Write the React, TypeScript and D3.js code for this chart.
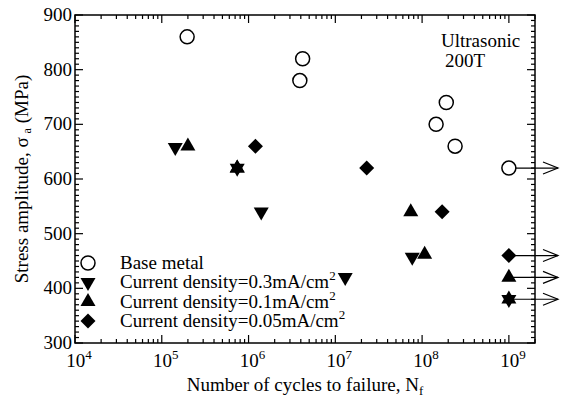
import React from "react";
import * as d3 from "d3";

const baseN = [1.96e5, 4.2e6, 3.9e6, 1.9e8, 1.45e8, 2.4e8, 1e9];
const baseS = [860, 820, 780, 740, 700, 660, 620];
const cd03N = [1.43e5, 7.4e5, 1.4e6, 1.3e7, 7.7e7, 1e9];
const cd03S = [658, 620, 540, 420, 457, 380];
const cd01N = [2.0e5, 7.4e5, 7.4e7, 1.07e8, 1e9];
const cd01S = [660, 620, 540, 462, 420];
const cd005N = [1.2e6, 2.3e7, 1.7e8, 1e9];
const cd005S = [660, 620, 540, 460];
const runoutN = [1e9, 1e9, 1e9, 1e9];
const runoutS = [620, 460, 420, 380];
const runoutOpen = [true, false, false, false];
const xTickExp = [4, 5, 6, 7, 8, 9];
const yTicks = [300, 400, 500, 600, 700, 800, 900];
const legendLabels = ["Base metal", "Current density=0.3mA/cm", "Current density=0.1mA/cm", "Current density=0.05mA/cm"];

const W = 568, H = 399;
const L = 75, R = 535, T = 15, B = 343;
const FONT = "Liberation Serif, Times New Roman, DejaVu Serif, serif";

const x = d3.scaleLog().domain([1e4, 2e9]).range([L, R]);
const y = d3.scaleLinear().domain([300, 900]).range([B, T]);

const tw = 7.5, th = 13;
const upPath = `M0,${-2 * th / 3}L${tw},${th / 3}L${-tw},${th / 3}Z`;
const downPath = `M0,${2 * th / 3}L${tw},${-th / 3}L${-tw},${-th / 3}Z`;
const diamondPath = "M0,-7.5L7.5,0L0,7.5L-7.5,0Z";

function Marker({ kind, cx, cy }: { kind: string; cx: number; cy: number }) {
  if (kind === "circle")
    return <circle cx={cx} cy={cy} r={7} fill="white" stroke="black" strokeWidth={1.5} />;
  const d = kind === "up" ? upPath : kind === "down" ? downPath : diamondPath;
  return <path d={d} transform={`translate(${cx},${cy})`} fill="black" />;
}

const ts = { fontFamily: FONT };

export default function App() {
  const minorX: number[] = [];
  for (let e = 4; e <= 9; e++) for (let m = 2; m <= 9; m++) {
    const v = m * Math.pow(10, e);
    if (v <= 2e9) minorX.push(v);
  }
  const minorY: number[] = [];
  for (let v = 300; v <= 900; v += 10) if (v % 100 !== 0) minorY.push(v);

  const majLen = 8, minLen = 4;
  return (
    <svg width={W} height={H} style={{ position: "absolute", left: 0, top: 0, background: "white", fontFamily: FONT }}>
      <rect x={0} y={0} width={W} height={H} fill="white" />
      <g stroke="black" strokeWidth={1.2}>
        {xTickExp.map((e) => {
          const px = x(Math.pow(10, e));
          return (
            <g key={"xm" + e}>
              <line x1={px} x2={px} y1={B} y2={B - majLen} />
              <line x1={px} x2={px} y1={T} y2={T + majLen} />
            </g>
          );
        })}
        {minorX.map((v, i) => {
          const px = x(v);
          return (
            <g key={"xn" + i}>
              <line x1={px} x2={px} y1={B} y2={B - minLen} />
              <line x1={px} x2={px} y1={T} y2={T + minLen} />
            </g>
          );
        })}
        {yTicks.map((v) => (
          <g key={"ym" + v}>
            <line x1={L} x2={L + majLen} y1={y(v)} y2={y(v)} />
            <line x1={R} x2={R - majLen} y1={y(v)} y2={y(v)} />
          </g>
        ))}
        {minorY.map((v) => (
          <g key={"yn" + v}>
            <line x1={L} x2={L + minLen} y1={y(v)} y2={y(v)} />
            <line x1={R} x2={R - minLen} y1={y(v)} y2={y(v)} />
          </g>
        ))}
      </g>
      <rect x={L} y={T} width={R - L} height={B - T} fill="none" stroke="black" strokeWidth={1.5} />
      {yTicks.map((v) => (
        <text key={"yl" + v} style={ts} x={L - 3} y={y(v) + 6} textAnchor="end" fontSize={19}>{v}</text>
      ))}
      {xTickExp.map((e) => (
        <text key={"xl" + e} style={ts} x={x(Math.pow(10, e)) + 4} y={367} textAnchor="middle" fontSize={19}>
          10<tspan dy={-8} fontSize={13}>{e}</tspan>
        </text>
      ))}
      <text style={ts} x={305} y={391} textAnchor="middle" fontSize={19}>
        Number of cycles to failure, N<tspan dy={4} fontSize={13}>f</tspan>
      </text>
      <text style={ts} transform={`translate(28,${(T + B) / 2}) rotate(-90)`} textAnchor="middle" fontSize={19}>
        Stress amplitude,  σ<tspan dx={4} dy={3} fontSize={12}>a</tspan><tspan dy={-3}> (MPa)</tspan>
      </text>
      <text style={ts} x={441} y={47} fontSize={19}>Ultrasonic</text>
      <text style={ts} x={445} y={67} fontSize={19}>200T</text>
      <g stroke="black" strokeWidth={1.2} fill="none">
        {runoutN.map((n, i) => {
          const px = x(n), py = y(runoutS[i]);
          return (
            <g key={"ar" + i}>
              <line x1={px + (runoutOpen[i] ? 7 : 0)} x2={558} y1={py} y2={py} />
              <polyline points={`${543},${py - 6} ${558},${py} ${543},${py + 6}`} />
            </g>
          );
        })}
      </g>
      {baseN.map((n, i) => <Marker key={"b" + i} kind="circle" cx={x(n)} cy={y(baseS[i])} />)}
      {cd03N.map((n, i) => <Marker key={"d" + i} kind="down" cx={x(n)} cy={y(cd03S[i])} />)}
      {cd01N.map((n, i) => <Marker key={"u" + i} kind="up" cx={x(n)} cy={y(cd01S[i])} />)}
      {cd005N.map((n, i) => <Marker key={"m" + i} kind="diamond" cx={x(n)} cy={y(cd005S[i])} />)}
      <Marker kind="up" cx={x(7.4e5)} cy={y(620)} />
      <Marker kind="up" cx={x(1e9)} cy={y(380)} />
      {legendLabels.map((lab, i) => {
        const ly = 263 + i * 19.3;
        const kind = ["circle", "down", "up", "diamond"][i];
        return (
          <g key={"lg" + i}>
            <Marker kind={kind} cx={88} cy={ly} />
            <text style={ts} x={120} y={ly + 6} fontSize={19}>
              {lab}
              {i > 0 ? <tspan dy={-8} fontSize={13}>2</tspan> : null}
            </text>
          </g>
        );
      })}
    </svg>
  );
}
